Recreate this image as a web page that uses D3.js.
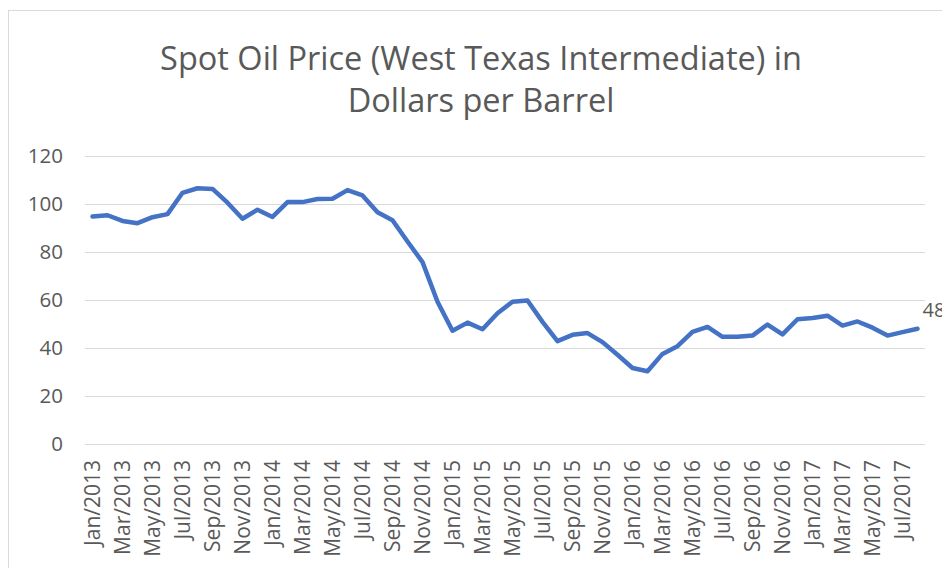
<!DOCTYPE html>
<html><head><meta charset="utf-8">
<script src="https://cdn.jsdelivr.net/npm/d3@7"></script>
<style>body{margin:0;background:#fff;} svg{display:block;font-family:"Open Sans",sans-serif;}</style>
</head><body><svg id="c" width="942" height="568"></svg>
<script>
const months = ["Jan","Feb","Mar","Apr","May","Jun","Jul","Aug","Sep","Oct","Nov","Dec"];
const categories = [];
for (let y = 2013; y <= 2017; y++) for (let m = 0; m < 12; m++) { if (y === 2017 && m > 7) break; categories.push(months[m] + "/" + y); }
const prices = [
  94.76, 95.31, 92.94, 92.02, 94.51, 95.77, 104.67, 106.57, 106.29, 100.54, 93.86, 97.63,
  94.62, 100.82, 100.80, 102.07, 102.18, 105.79, 103.59, 96.54, 93.21, 84.40, 75.79, 59.29,
  47.22, 50.58, 47.82, 54.45, 59.27, 59.82, 50.90, 42.87, 45.48, 46.22, 42.44, 37.19,
  31.68, 30.32, 37.55, 40.75, 46.71, 48.76, 44.65, 44.72, 45.18, 49.78, 45.66, 51.97,
  52.50, 53.47, 49.33, 51.06, 48.48, 45.18, 46.63, 48.04
];
const yTicks = [0, 20, 40, 60, 80, 100, 120];
const titleLines = ["Spot Oil Price (West Texas Intermediate) in", "Dollars per Barrel"];
const endLabel = "48";

const svg = d3.select("#c");
const grey = "#595959";
// chart border
svg.append("rect").attr("x", 8.5).attr("y", 10.5).attr("width", 960).attr("height", 600)
  .attr("fill", "none").attr("stroke", "#d9d9d9").attr("stroke-width", 1);

const x = d3.scaleBand().domain(categories).range([85, 925]);
const y = d3.scaleLinear().domain([0, 120]).range([444, 156]);

// gridlines
svg.append("g").selectAll("line").data(yTicks).join("line")
  .attr("x1", 85).attr("x2", 925)
  .attr("y1", d => Math.round(y(d)) + 0.5).attr("y2", d => Math.round(y(d)) + 0.5)
  .attr("stroke", "#d9d9d9").attr("stroke-width", 1);

// y axis labels
const yAxis = d3.axisLeft(y).tickValues(yTicks).tickSize(0).tickPadding(0);
const gy = svg.append("g").attr("transform", "translate(63,0)").call(yAxis);
gy.select(".domain").remove();
gy.selectAll("text").attr("font-size", 20.5).attr("fill", grey).attr("font-family", "Open Sans, sans-serif");

// x axis labels
const xAxis = d3.axisBottom(x).tickValues(categories.filter((d, i) => i % 2 === 0)).tickSize(0);
const gx = svg.append("g").attr("transform", "translate(0,444)").call(xAxis);
gx.select(".domain").remove();
gx.selectAll("text")
  .attr("font-size", 21).attr("fill", grey).attr("font-family", "Open Sans, sans-serif")
  .attr("transform", "rotate(-90)").attr("text-anchor", "end")
  .attr("x", -16).attr("y", 0).attr("dy", "0.35em");

// line
const line = d3.line().x((d, i) => x(categories[i]) + x.bandwidth() / 2).y(d => y(d));
svg.append("path").datum(prices).attr("d", line)
  .attr("fill", "none").attr("stroke", "#4472C4").attr("stroke-width", 4.5)
  .attr("stroke-linejoin", "round").attr("stroke-linecap", "round");

// end label
const last = prices.length - 1;
svg.append("text").attr("x", x(categories[last]) + x.bandwidth() / 2 + 5).attr("y", y(prices[last]) - 12)
  .attr("font-size", 20).attr("fill", grey).text(endLabel);

// title
svg.append("g").selectAll("text").data(titleLines).join("text")
  .attr("x", 481).attr("y", (d, i) => 70 + i * 42)
  .attr("text-anchor", "middle").attr("font-size", 32.5).attr("fill", grey).text(d => d);
</script></body></html>
